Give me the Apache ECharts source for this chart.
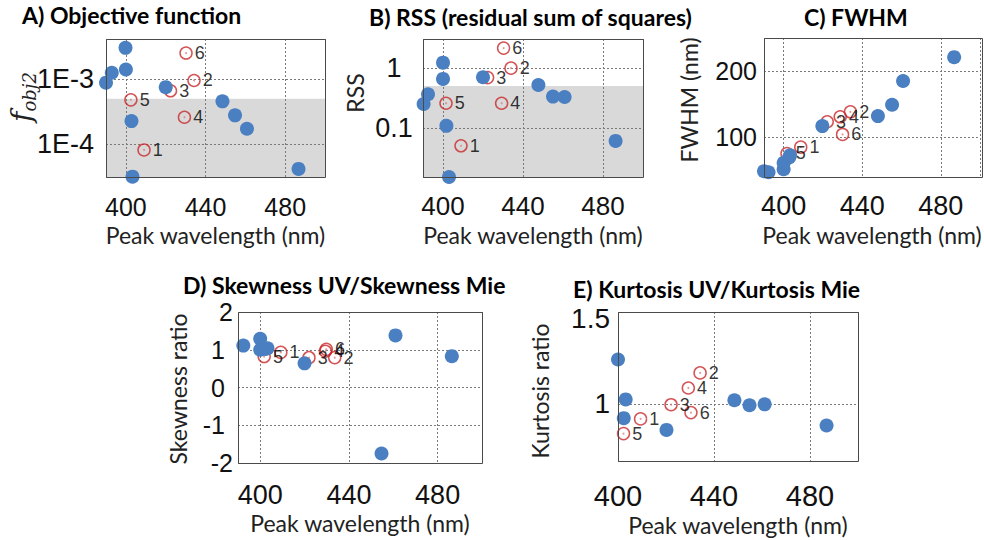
<!DOCTYPE html>
<html>
<head>
<meta charset="utf-8">
<script src="https://cdn.jsdelivr.net/npm/echarts@6/dist/echarts.min.js"></script>
<style>html,body{margin:0;padding:0;background:#fff}#c{width:984px;height:540px}</style>
</head>
<body>
<div id="c"></div>
<script>
// ---------------- DATA ----------------
const xName = 'Peak wavelength (nm)';
const xTickValues = [400, 440, 480];
const sampleLabels = ['1', '2', '3', '4', '5', '6'];

// A) Objective function (log scale)
const aTitle = 'A) Objective function';
const aBlueX = [390, 392.9, 399.8, 400, 402.8, 403.3, 420, 448.5, 454.8, 460.8, 486.7];
const aBlueY = [8.8e-4, 1.25e-3, 3.0e-3, 1.4e-3, 2.27e-4, 3.2e-5, 7.5e-4, 4.55e-4, 2.78e-4, 1.73e-4, 4.2e-5];
const aRedX = [409.1, 434.2, 422.4, 429.4, 402.5, 430.2];
const aRedY = [8.2e-5, 9.5e-4, 6.6e-4, 2.6e-4, 4.8e-4, 2.5e-3];
const aShadeMax = 5e-4;
const aYRange = [3.16e-5, 4.1e-3];
const aYTickLabels = { '-4': '1E-4', '-3': '1E-3' };

// B) RSS (log scale)
const bTitle = 'B) RSS (residual sum of squares)';
const bBlueX = [390.3, 392.5, 400, 400, 401.7, 403, 420, 447.7, 455, 460.8, 486.3];
const bBlueY = [0.253, 0.366, 1.22, 0.657, 0.11, 0.0157, 0.70, 0.52, 0.335, 0.33, 0.062];
const bRedX = [409, 434, 422.3, 429.3, 401.5, 430.3];
const bRedY = [0.0515, 0.99, 0.69, 0.26, 0.26, 2.12];
const bShadeMax = 0.5;
const bYRange = [0.0157, 3.0];
const bYTickLabels = { '-1': '0.1', '0': '1' };

// C) FWHM
const cTitle = 'C) FWHM';
const cBlueX = [390, 392.3, 400, 400, 402.8, 403.3, 419.7, 448, 455.2, 460.8, 486.8];
const cBlueY = [47.8, 46.3, 50.8, 60.4, 68.6, 72, 116.3, 131.5, 148.7, 184.8, 220.9];
const cRedX = [408.7, 434, 422.2, 428.8, 401.7, 430];
const cRedY = [84.3, 138, 122.9, 130.4, 74.7, 103.6];
const cYRange = [39, 250];
const cYTicks = [100, 200];

// D) Skewness ratio
const dTitle = 'D) Skewness UV/Skewness Mie';
const dBlueX = [389.7, 392.4, 400, 400, 402.3, 403.3, 420, 454.7, 461, 486.4];
const dBlueY = [1.05, 1.11, 1.29, 1.0, 1.02, 1.04, 0.64, -1.75, 1.38, 0.83];
const dRedX = [409.3, 433.6, 422, 429.4, 401.8, 429.8];
const dRedY = [0.93, 0.79, 0.79, 0.96, 0.82, 1.01];
const dYRange = [-2, 2];
const dYTicks = [-2, -1, 0, 1, 2];

// E) Kurtosis ratio
const eTitle = 'E) Kurtosis UV/Kurtosis Mie';
const eBlueX = [400, 403.2, 402.4, 420.2, 448.5, 454.8, 461.1, 486.9];
const eBlueY = [1.242, 1.025, 0.923, 0.859, 1.02, 0.993, 0.998, 0.883];
const eRedX = [409.4, 434.2, 422.1, 429.3, 402.3, 430.4];
const eRedY = [0.919, 1.169, 0.996, 1.087, 0.839, 0.953];
const eYRange = [0.69, 1.5];
const eYTicks = [1, 1.5];

// ---------------- STYLE / LAYOUT ----------------
const BLUE = '#4a7fc1';
const RED = '#c8282c';
const GRAY = '#d9d9d9';
const GRID_COLOR = '#7a7a7a';
const TXT = '#111';
const NUM_FONT = 'Liberation Sans';
const NAME_FONT = 'Lato';

const zip = (xs, ys) => xs.map((x, i) => [x, ys[i]]);
const logFmt = map => v => {
  const l = Math.log10(v), r = Math.round(l);
  return Math.abs(l - r) < 1e-6 ? (map[String(r)] || '') : '';
};
// formatter for linear axes; optional rich style name per value (for small nudges like the reference)
const linFmt = (ticks, styleOf) => v => {
  if (!ticks.some(t => Math.abs(t - v) < 1e-9)) return '';
  const s = String(Math.round(v * 100) / 100);
  const st = styleOf ? styleOf(v) : null;
  return st ? '{' + st + '|' + s + '}' : s;
};

const panels = [
  { title: aTitle, titlePos: [22, 15], grid: { left: 106, top: 39, width: 219, height: 138 },
    xRange: [390, 500], xFont: 25, xMargin: 17, xGap: 46,
    yType: 'log', yRange: aYRange, yFmt: logFmt(aYTickLabels),
    yFont: 27, yMargin: 12, yNamePos: [21, 97], yNameRich: true,
    blue: zip(aBlueX, aBlueY), red: zip(aRedX, aRedY), shade: [aYRange[0], aShadeMax] },
  { title: bTitle, titlePos: [369, 17], grid: { left: 423, top: 39, width: 220, height: 138 },
    xRange: [390, 500], xFont: 26, xMargin: 16, xGap: 46,
    yType: 'log', yRange: bYRange, yFmt: logFmt(bYTickLabels), yAlign: 'center',
    yFont: 27, yMargin: 29, yName: 'RSS', yNamePos: [355, 93],
    blue: zip(bBlueX, bBlueY), red: zip(bRedX, bRedY), shade: [bYRange[0], bShadeMax] },
  { title: cTitle, titlePos: [804, 17], grid: { left: 764, top: 38, width: 218, height: 139 },
    xRange: [390, 500], xFont: 27, xMargin: 15, xGap: 46,
    yType: 'value', yRange: cYRange, yInterval: 100, yFmt: linFmt(cYTicks),
    yFont: 25, yMargin: 7, yName: 'FWHM (nm)', yNamePos: [689, 100],
    blue: zip(cBlueX, cBlueY), red: zip(cRedX, cRedY) },
  { title: dTitle, titlePos: [183, 285], grid: { left: 238, top: 312, width: 244, height: 151 },
    xRange: [390, 500], xFont: 27, xMargin: 18, xGap: 48,
    yType: 'value', yRange: dYRange, yInterval: 1,
    yFmt: linFmt(dYTicks, v => (Math.abs(v) < 1.5 ? 'mid' : null)), midPad: [0, 8, 0, 0],
    yFont: 25, yMargin: 5, yName: 'Skewness ratio', yNamePos: [178, 389],
    blue: zip(dBlueX, dBlueY), red: zip(dRedX, dRedY) },
  { title: eTitle, titlePos: [573, 289], grid: { left: 618, top: 312, width: 240, height: 149 },
    xRange: [400, 500], xFont: 29, xMargin: 20, xGap: 52,
    yType: 'value', yRange: eYRange, yInterval: 0.5,
    yFmt: linFmt(eYTicks, v => (v === 1.5 ? 'top' : null)), topPad: [12, 0, 0, 0],
    yFont: 28, yMargin: 8, yName: 'Kurtosis ratio', yNamePos: [540, 391],
    blue: zip(eBlueX, eBlueY), red: zip(eRedX, eRedY) }
];

const option = { animation: false, backgroundColor: '#fff', grid: [], xAxis: [], yAxis: [], series: [], graphic: [] };

panels.forEach((p, i) => {
  option.grid.push(Object.assign({ show: false }, p.grid));
  option.xAxis.push({
    type: 'value', gridIndex: i, min: p.xRange[0], max: p.xRange[1],
    minInterval: 40, maxInterval: 40, z: 1.5,
    axisLine: { show: false }, axisTick: { show: false },
    splitLine: { show: true, lineStyle: { color: GRID_COLOR, type: [2, 2], width: 1 } },
    axisLabel: { fontSize: p.xFont, lineHeight: p.xFont, color: TXT, fontFamily: NUM_FONT, margin: p.xMargin,
      formatter: v => xTickValues.includes(v) ? String(v) : '' },
    name: xName, nameLocation: 'middle', nameGap: p.xGap,
    nameTextStyle: { fontSize: 23, lineHeight: 23, color: '#222', fontFamily: NAME_FONT }
  });
  const labelBase = { fontSize: p.yFont, color: TXT, fontFamily: NUM_FONT };
  const y = {
    type: p.yType, gridIndex: i, min: p.yRange[0], max: p.yRange[1], z: 1.5,
    axisLine: { show: false }, axisTick: { show: false },
    splitLine: { show: true, lineStyle: { color: GRID_COLOR, type: [2, 2], width: 1 } },
    axisLabel: Object.assign({}, labelBase, { margin: p.yMargin, formatter: p.yFmt,
      rich: { top: Object.assign({}, labelBase, { padding: p.topPad || [0, 0, 0, 0] }),
              mid: Object.assign({}, labelBase, { padding: p.midPad || [0, 0, 0, 0] }) } })
  };
  if (p.yAlign) y.axisLabel.align = p.yAlign;
  if (p.yType === 'log') { y.logBase = 10; }
  else { y.minInterval = p.yInterval; y.maxInterval = p.yInterval; }
  option.yAxis.push(y);

  const redSeries = {
    type: 'scatter', xAxisIndex: i, yAxisIndex: i, data: p.red, symbol: 'circle', symbolSize: 12, z: 2,
    itemStyle: { color: 'rgba(255,255,255,0)', borderColor: RED, borderWidth: 1.5 },
    label: { show: true, position: 'right', distance: 2, color: '#000', fontSize: 18, fontFamily: NUM_FONT,
      formatter: prm => sampleLabels[prm.dataIndex] },
    silent: true
  };
  const dotSeries = {
    type: 'scatter', xAxisIndex: i, yAxisIndex: i, data: p.red, symbol: 'circle', symbolSize: 2, z: 2,
    itemStyle: { color: '#d98080' }, silent: true
  };
  const blueSeries = {
    type: 'scatter', xAxisIndex: i, yAxisIndex: i, data: p.blue, symbol: 'circle', symbolSize: 14, z: 3,
    itemStyle: { color: BLUE, opacity: 1 }, silent: true
  };
  if (p.shade) {
    blueSeries.markArea = { silent: true, itemStyle: { color: GRAY, opacity: 1, borderWidth: 0 }, label: { show: false },
      data: [[{ yAxis: p.shade[0] }, { yAxis: p.shade[1] }]] };
  }
  option.series.push(redSeries, dotSeries, blueSeries);

  // plot border
  option.graphic.push({ type: 'rect', z: 100, silent: true,
    shape: { x: p.grid.left + 0.5, y: p.grid.top + 0.5, width: p.grid.width, height: p.grid.height },
    style: { fill: null, stroke: '#4a4a4a', lineWidth: 1 } });
  // title
  option.graphic.push({ type: 'text', z: 100, x: p.titlePos[0], y: p.titlePos[1], silent: true,
    style: { text: p.title, fill: '#000', font: 'bold 23px Lato', align: 'left', verticalAlign: 'middle' } });
  // y-axis name
  if (p.yNameRich) {
    option.graphic.push({ type: 'text', z: 100, x: p.yNamePos[0], y: p.yNamePos[1], rotation: Math.PI / 2, silent: true,
      style: { text: '{f|f}{s|obj2}', align: 'center', verticalAlign: 'middle',
        rich: { f: { fontFamily: 'DejaVu Serif', fontStyle: 'italic', fontSize: 28, fill: '#222', lineHeight: 34, verticalAlign: 'middle' },
                s: { fontFamily: 'DejaVu Serif', fontStyle: 'italic', fontSize: 18, fill: '#222', lineHeight: 34, verticalAlign: 'bottom', padding: [14, 0, 0, 0] } } } });
  } else {
    option.graphic.push({ type: 'text', z: 100, x: p.yNamePos[0], y: p.yNamePos[1], rotation: Math.PI / 2, silent: true,
      style: { text: p.yName, fill: '#222', font: '23px Lato', align: 'center', verticalAlign: 'middle' } });
  }
});

const chart = echarts.init(document.getElementById('c'), null, { renderer: 'svg' });
chart.setOption(option);
</script>
</body>
</html>
